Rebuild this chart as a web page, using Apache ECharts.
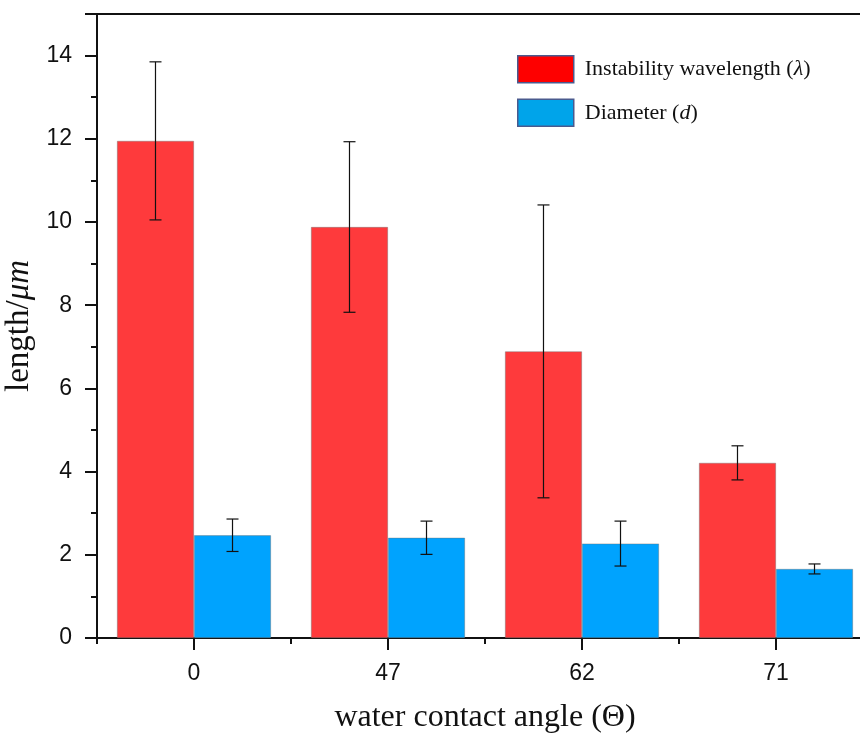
<!DOCTYPE html>
<html>
<head>
<meta charset="utf-8">
<script src="https://cdn.jsdelivr.net/npm/echarts@6/dist/echarts.min.js"></script>
<style>
  html, body { margin: 0; padding: 0; background: #fff; }
  #chart { width: 860px; height: 735px; }
</style>
</head>
<body>
<div id="chart"></div>
<script>
// 数据
const angles = ['0', '47', '62', '71']
const wavelength = [11.95, 9.88, 6.89, 4.21]
const wavelengthErr = [1.9, 2.05, 3.52, 0.41]
const diameter = [2.47, 2.41, 2.27, 1.66]
const diameterErr = [0.39, 0.4, 0.54, 0.12]

const serif = '"Liberation Serif", "Times New Roman", serif'
const sans = '"Liberation Sans", Arial, sans-serif'

const BAR_W = 0.397
const PLOT_H = 735 - 14 - 97

// 误差棒
const errorBars = (vals, errs, shift) => ({
  type: 'custom',
  z: 5,
  silent: true,
  data: vals.map((v, i) => [i, v, errs[i]]),
  renderItem: (params, api) => {
    const i = api.value(0)
    const v = api.value(1)
    const e = api.value(2)
    const band = api.size([1, 0])[0]
    const x = api.coord([i, v])[0] + shift * band * BAR_W / 2
    const hi = api.coord([i, v + e])[1]
    const lo = api.coord([i, v - e])[1]
    const cap = 6
    const style = { stroke: '#111', lineWidth: 1.2 }
    return {
      type: 'group',
      children: [
        { type: 'line', shape: { x1: x, y1: hi, x2: x, y2: lo }, style },
        { type: 'line', shape: { x1: x - cap, y1: hi, x2: x + cap, y2: hi }, style },
        { type: 'line', shape: { x1: x - cap, y1: lo, x2: x + cap, y2: lo }, style }
      ]
    }
  }
})

const chart = echarts.init(document.getElementById('chart'))

const option = {
  animation: false,
  backgroundColor: '#fff',
  grid: {
    left: 97, top: 14, right: -13, bottom: 97,
    outerBoundsMode: 'none',
    show: true,
    backgroundColor: 'transparent',
    borderColor: '#111',
    borderWidth: 2
  },
  legend: {
    left: 517,
    top: 55,
    padding: 0,
    orient: 'vertical',
    itemWidth: 56,
    itemHeight: 27,
    itemGap: 15,
    data: [
      { name: 'wavelength', icon: 'rect', itemStyle: { color: '#fe0000', borderColor: '#4a5a8e', borderWidth: 1.5 } },
      { name: 'diameter', icon: 'rect', itemStyle: { color: '#00a4ea', borderColor: '#4a5a8e', borderWidth: 1.5 } }
    ],
    formatter: name => name === 'wavelength'
      ? '{n|Instability wavelength (}{i|λ}{n|)}'
      : '{n|Diameter (}{i|d}{n|)}',
    textStyle: {
      padding: [0, 0, 0, 6],
      rich: {
        n: { fontFamily: serif, fontSize: 22, color: '#111' },
        i: { fontFamily: serif, fontSize: 22, fontStyle: 'italic', color: '#111' }
      }
    }
  },
  xAxis: [
    {
      type: 'category',
      data: angles,
      position: 'bottom',
      name: 'water contact angle (Θ)',
      nameLocation: 'middle',
      nameGap: 64,
      nameTextStyle: { fontFamily: serif, fontSize: 32, color: '#111' },
      axisLine: { show: true, onZero: false, lineStyle: { color: '#111', width: 2 } },
      axisTick: { show: true, length: 6, lineStyle: { color: '#111', width: 2 } },
      axisLabel: { fontFamily: sans, fontSize: 23, color: '#111', margin: 24 }
    },
    {
      // 类别中心处的长刻度（移到底部）
      type: 'value',
      min: -0.5,
      max: angles.length - 0.5,
      position: 'top',
      offset: -PLOT_H,
      axisLine: { show: false, onZero: false },
      axisTick: {
        show: true,
        inside: true,
        length: 12,
        customValues: angles.map((_, i) => i),
        lineStyle: { color: '#111', width: 2 }
      },
      axisLabel: { show: false },
      splitLine: { show: false }
    }
  ],
  yAxis: {
    type: 'value',
    min: 0,
    max: 15,
    interval: 2,
    name: '{n|length/}{i|μm}',
    nameLocation: 'middle',
    nameGap: 60,
    nameTextStyle: {
      rich: {
        n: { fontFamily: serif, fontSize: 33, color: '#111' },
        i: { fontFamily: serif, fontSize: 33, fontStyle: 'italic', color: '#111' }
      }
    },
    axisLine: { show: true, onZero: false, lineStyle: { color: '#111', width: 2 } },
    axisTick: { show: true, length: 12, lineStyle: { color: '#111', width: 2 } },
    minorTick: { show: true, splitNumber: 2, length: 6, lineStyle: { color: '#111', width: 2 } },
    axisLabel: { fontFamily: sans, fontSize: 23, color: '#111', margin: 25, showMaxLabel: false },
    splitLine: { show: false }
  },
  series: [
    {
      name: 'wavelength',
      type: 'bar',
      xAxisIndex: 0,
      data: wavelength,
      barWidth: (BAR_W * 100) + '%',
      barGap: '0%',
      itemStyle: { color: '#fe3a3c', borderColor: 'rgba(110,110,110,0.6)', borderWidth: 0.7 }
    },
    {
      name: 'diameter',
      type: 'bar',
      xAxisIndex: 0,
      data: diameter,
      barWidth: (BAR_W * 100) + '%',
      barGap: '0%',
      itemStyle: { color: '#00a3fe', borderColor: 'rgba(110,110,110,0.6)', borderWidth: 0.7 }
    },
    errorBars(wavelength, wavelengthErr, -1),
    errorBars(diameter, diameterErr, 1)
  ]
}

chart.setOption(option)
</script>
</body>
</html>
